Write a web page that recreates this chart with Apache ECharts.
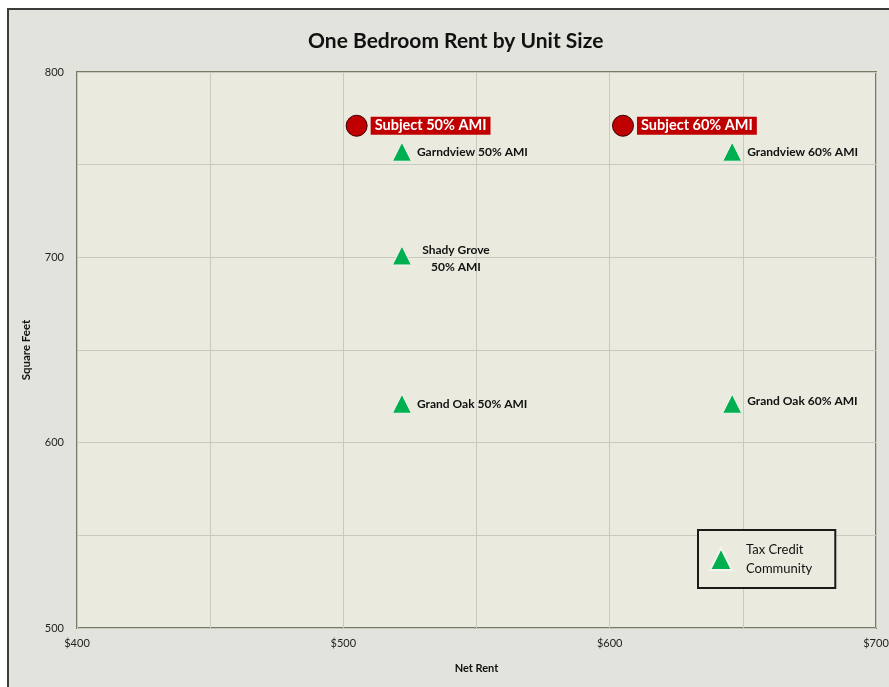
<!DOCTYPE html>
<html>
<head>
<meta charset="utf-8">
<script src="https://cdn.jsdelivr.net/npm/echarts@6/dist/echarts.min.js"></script>
<style>
  html, body { margin: 0; padding: 0; background: #fff; }
  #chart { width: 889px; height: 687px; }
</style>
</head>
<body>
<div id="chart"></div>
<script>
// --- data ---
const subjectNames = ["Subject 50% AMI", "Subject 60% AMI"];
const subjectRent = [505, 605];
const subjectSqft = [771, 771];

const compNames = ["Garndview 50% AMI", "Grandview 60% AMI", "Shady Grove\n50% AMI", "Grand Oak 50% AMI", "Grand Oak 60% AMI"];
const compRent = [522, 646, 522, 522, 646];
const compSqft = [757, 757, 701, 621, 621];

const legendLabel = "Tax Credit\nCommunity";

const FONT = "Lato, 'Open Sans', sans-serif";
const PLOT_BG = "#eaeadf";

const chart = echarts.init(document.getElementById("chart"), null, { renderer: "canvas" });

const subjectData = subjectNames.map((n, i) => ({ name: n, value: [subjectRent[i], subjectSqft[i]] }));
const compData = compNames.map((n, i) => {
  const item = { name: n, value: [compRent[i], compSqft[i]] };
  // two-line label sits centred to the right
  if (n.indexOf("\n") >= 0) item.label = { align: "center", offset: [39, 3], lineHeight: 17 };
  if (n === "Grand Oak 60% AMI") item.label = { offset: [0, -3] };
  return item;
});

chart.setOption({
  backgroundColor: "#fff",
  animation: false,
  graphic: [{
    type: "rect", z: -10, silent: true,
    shape: { x: 8, y: 9, width: 900, height: 700 },
    style: { fill: "#e3e3dd", stroke: "#3c3c3c", lineWidth: 2 }
  }],
  title: {
    text: "One Bedroom Rent by Unit Size",
    left: 303, top: 26,
    textStyle: { fontFamily: FONT, fontSize: 21, fontWeight: "bold", color: "#111" }
  },
  grid: {
    left: 77, top: 72, right: 13, bottom: 59,
    outerBoundsMode: "none",
    show: true, backgroundColor: PLOT_BG, borderColor: "#757b66", borderWidth: 2
  },
  xAxis: {
    type: "value", min: 400, max: 700, interval: 50,
    name: "Net Rent", nameLocation: "middle", nameGap: 35,
    nameTextStyle: { fontFamily: FONT, fontSize: 11, fontWeight: "bold", color: "#111" },
    axisLine: { show: false }, axisTick: { show: false },
    axisLabel: {
      fontFamily: FONT, fontSize: 11, color: "#222", margin: 10,
      formatter: (v) => (v % 100 === 0 ? "$" + v : "")
    },
    splitLine: { lineStyle: { color: "#c9c9bf", width: 1 } }
  },
  yAxis: {
    type: "value", min: 500, max: 800, interval: 50,
    name: "Square Feet", nameLocation: "middle", nameGap: 45,
    nameTextStyle: { fontFamily: FONT, fontSize: 11.5, fontWeight: "bold", color: "#111" },
    axisLine: { show: false }, axisTick: { show: false },
    axisLabel: {
      fontFamily: FONT, fontSize: 11, color: "#222", margin: 13,
      formatter: (v) => (v % 100 === 0 ? String(v) : "")
    },
    splitLine: { lineStyle: { color: "#c9c9bf", width: 1 } }
  },
  legend: {
    data: [legendLabel],
    left: 698, top: 530,
    orient: "vertical",
    icon: "triangle", itemWidth: 22, itemHeight: 22,
    padding: [10, 23, 10, 11],
    backgroundColor: PLOT_BG,
    borderColor: "#1a1a1a", borderWidth: 2, borderRadius: 0,
    textStyle: { fontFamily: FONT, fontSize: 13, color: "#111", lineHeight: 19, padding: [0, 0, 0, 9] }
  },
  series: [
    {
      name: "Subject",
      type: "scatter",
      symbol: "circle", symbolSize: 21,
      itemStyle: { color: "#c00000", borderColor: "#3a0000", borderWidth: 1, opacity: 1 },
      label: {
        show: true, position: "right", distance: 3,
        formatter: "{b}",
        fontFamily: FONT, fontSize: 14.5, fontWeight: "bold", color: "#fff",
        backgroundColor: "#c00000", padding: [2, 4, 1, 4]
      },
      data: subjectData
    },
    {
      name: legendLabel,
      type: "scatter",
      symbol: "triangle", symbolSize: 19,
      itemStyle: { color: "#00b050", borderColor: "#f4f4ee", borderWidth: 1, opacity: 1 },
      label: {
        show: true, position: "right", distance: 5,
        formatter: "{b}",
        fontFamily: FONT, fontSize: 12, fontWeight: "bold", color: "#111"
      },
      data: compData
    }
  ]
});
</script>
</body>
</html>
